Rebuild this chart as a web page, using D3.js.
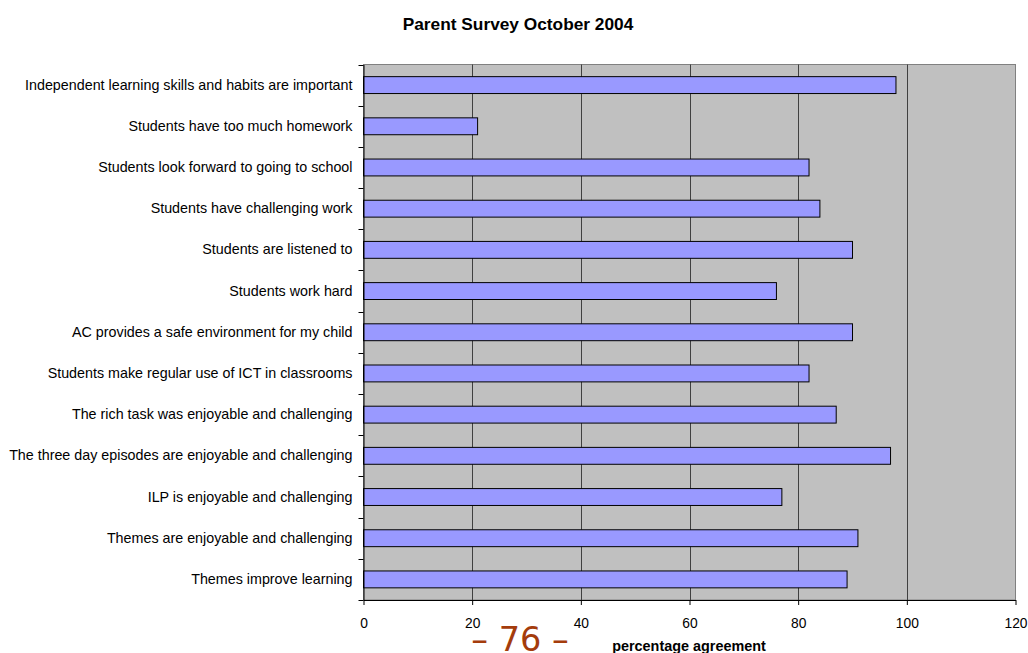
<!DOCTYPE html>
<html>
<head>
<meta charset="utf-8">
<script src="https://cdn.jsdelivr.net/npm/d3@7/dist/d3.min.js"></script>
<style>
  html, body { margin: 0; padding: 0; background: #ffffff; }
  svg { display: block; }
</style>
</head>
<body>
<svg id="chart" width="1028" height="653"></svg>
<script>
// Survey statements, listed top to bottom
const categories = [
  "Independent learning skills and habits are important",
  "Students have too much homework",
  "Students look forward to going to school",
  "Students have challenging work",
  "Students are listened to",
  "Students work hard",
  "AC provides a safe environment for my child",
  "Students make regular use of ICT in classrooms",
  "The rich task was enjoyable and challenging",
  "The three day episodes are enjoyable and challenging",
  "ILP is enjoyable and challenging",
  "Themes are enjoyable and challenging",
  "Themes improve learning"
];

// Percentage of parents agreeing with each statement
const agreement = [98, 21, 82, 84, 90, 76, 90, 82, 87, 97, 77, 91, 89];

const xTicks = [0, 20, 40, 60, 80, 100, 120];

const svg = d3.select("#chart");
const plot = { left: 363.5, top: 64.5, right: 1015.5, bottom: 600 };
const font = "'Liberation Sans', Arial, Helvetica, sans-serif";

const x = d3.scaleLinear().domain([0, 120]).range([plot.left, plot.right]);
const y = d3.scaleBand().domain(categories).range([plot.top, plot.bottom]).paddingInner(0.59).paddingOuter(0.295);
const band = d3.scaleBand().domain(categories).range([plot.top, plot.bottom]);

// Plot background
svg.append("rect")
  .attr("x", plot.left).attr("y", plot.top)
  .attr("width", plot.right - plot.left).attr("height", plot.bottom - plot.top)
  .attr("fill", "#c0c0c0").attr("stroke", "#808080").attr("stroke-width", 1);

// Vertical gridlines
svg.append("g").selectAll("line")
  .data(xTicks.slice(1, -1))
  .join("line")
  .attr("x1", d => Math.round(x(d)) + 0.5).attr("x2", d => Math.round(x(d)) + 0.5)
  .attr("y1", plot.top).attr("y2", plot.bottom)
  .attr("stroke", "#404040").attr("stroke-width", 1);

// Bars
svg.append("g").selectAll("rect")
  .data(categories)
  .join("rect")
  .attr("x", x(0))
  .attr("y", (d) => y(d))
  .attr("width", (d, i) => x(agreement[i]) - x(0))
  .attr("height", y.bandwidth())
  .attr("fill", "#9999ff")
  .attr("stroke", "#000000")
  .attr("stroke-width", 1);

// Category axis
const yAxis = d3.axisLeft(band).tickSize(0).tickPadding(11);
const gy = svg.append("g")
  .attr("transform", `translate(${plot.left},0)`)
  .call(yAxis);
gy.select(".domain").attr("stroke", "#000");
gy.selectAll("text").attr("font-family", font).attr("font-size", 14.3).attr("fill", "#000");

// Band-boundary tick marks on the category axis
const bounds = categories.map(c => band(c)).concat([plot.bottom]);
svg.append("g").selectAll("line")
  .data(bounds)
  .join("line")
  .attr("x1", plot.left - 5).attr("x2", plot.left)
  .attr("y1", d => Math.round(d) + 0.5).attr("y2", d => Math.round(d) + 0.5)
  .attr("stroke", "#000");

// Value axis
const xAxis = d3.axisBottom(x).tickValues(xTicks).tickSize(5).tickPadding(13).tickSizeOuter(0);
const gx = svg.append("g")
  .attr("transform", `translate(0,${plot.bottom})`)
  .call(xAxis);
gx.select(".domain").attr("stroke", "#000");
gx.selectAll("line").attr("stroke", "#000");
gx.selectAll("text").attr("font-family", font).attr("font-size", 13.8).attr("fill", "#000");

// Title
svg.append("text")
  .attr("x", 518).attr("y", 30)
  .attr("text-anchor", "middle")
  .attr("font-family", font).attr("font-size", 17.3).attr("font-weight", "bold")
  .text("Parent Survey October 2004");

// Axis title
svg.append("text")
  .attr("x", 689).attr("y", 651)
  .attr("text-anchor", "middle")
  .attr("font-family", font).attr("font-size", 14.4).attr("font-weight", "bold")
  .text("percentage agreement");

// Page number
svg.append("text")
  .attr("x", 520).attr("y", 651)
  .attr("text-anchor", "middle")
  .attr("font-family", "'DejaVu Sans', Verdana, sans-serif").attr("font-size", 33.5)
  .attr("fill", "#a43c0c")
  .text("\u2013 76 \u2013");
</script>
</body>
</html>
